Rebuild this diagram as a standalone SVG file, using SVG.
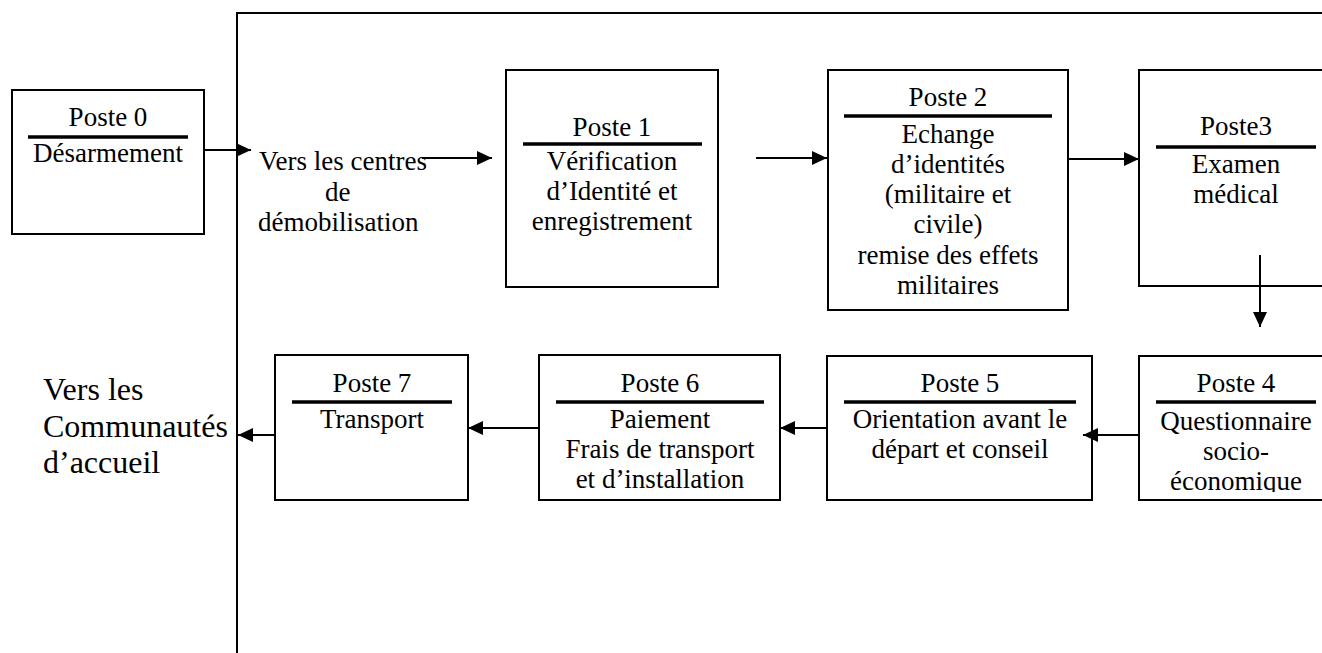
<svg xmlns="http://www.w3.org/2000/svg" width="1322" height="653" viewBox="0 0 1322 653">
<style>
.box{fill:#fff;stroke:#000;stroke-width:2}
.bar{stroke:#000;stroke-width:3.5}
.t{font-family:"Liberation Serif","Times New Roman",serif;font-size:27px;fill:#000;text-anchor:middle}
.tl{font-family:"Liberation Serif","Times New Roman",serif;font-size:27px;fill:#000}
.big{font-family:"Liberation Serif","Times New Roman",serif;font-size:32px;fill:#000}
.c{stroke:#000;stroke-width:2;fill:none;marker-end:url(#ah)}
.frame{stroke:#000;stroke-width:2;fill:none}
</style>
<defs>
<marker id="ah" markerUnits="userSpaceOnUse" markerWidth="16" markerHeight="16" refX="15" refY="7" orient="auto">
<path d="M0,0 L15,7 L0,14 z" fill="#000"/>
</marker>
<clipPath id="clip4"><rect x="1139" y="355" width="200" height="137"/></clipPath>
</defs>
<rect width="1322" height="653" fill="#fff"/>
<g id="frame">
<path class="frame" d="M237,653 L237,13 L1324,13"/>
</g>
<g id="poste0">
<rect class="box" x="12" y="90" width="192" height="144"/>
<text class="t" x="108" y="126">Poste 0</text>
<line class="bar" x1="28" y1="137" x2="188" y2="137"/>
<text class="t" x="108" y="162">Désarmement</text>
</g>
<g id="label-centres">
<text class="tl" x="259" y="170">Vers les centres</text>
<text class="tl" x="325" y="201">de</text>
<text class="tl" x="258" y="231">démobilisation</text>
</g>
<g id="poste1">
<rect class="box" x="506" y="70" width="212" height="217"/>
<text class="t" x="612" y="136">Poste 1</text>
<line class="bar" x1="523" y1="144" x2="702" y2="144"/>
<text class="t" x="612" y="170">Vérification</text>
<text class="t" x="612" y="200">d’Identité et</text>
<text class="t" x="612" y="230">enregistrement</text>
</g>
<g id="poste2">
<rect class="box" x="828" y="70" width="240" height="240"/>
<text class="t" x="948" y="106">Poste 2</text>
<line class="bar" x1="844" y1="116" x2="1052" y2="116"/>
<text class="t" x="948" y="143">Echange</text>
<text class="t" x="948" y="173">d’identités</text>
<text class="t" x="948" y="203">(militaire et</text>
<text class="t" x="948" y="233">civile)</text>
<text class="t" x="948" y="264">remise des effets</text>
<text class="t" x="948" y="294">militaires</text>
</g>
<g id="poste3">
<rect class="box" x="1139" y="70" width="200" height="216"/>
<text class="t" x="1236" y="135">Poste3</text>
<line class="bar" x1="1156" y1="147" x2="1316" y2="147"/>
<text class="t" x="1236" y="173">Examen</text>
<text class="t" x="1236" y="203">médical</text>
</g>
<g id="poste4">
<rect class="box" x="1139" y="356" width="200" height="144"/>
<text class="t" x="1236" y="392">Poste 4</text>
<line class="bar" x1="1156" y1="402" x2="1316" y2="402"/>
<g clip-path="url(#clip4)">
<text class="t" x="1236" y="430">Questionnaire</text>
<text class="t" x="1236" y="460">socio-</text>
<text class="t" x="1236" y="490">économique</text>
</g>
</g>
<g id="poste5">
<rect class="box" x="827" y="356" width="265" height="144"/>
<text class="t" x="960" y="392">Poste 5</text>
<line class="bar" x1="844" y1="402" x2="1076" y2="402"/>
<text class="t" x="960" y="428">Orientation avant le</text>
<text class="t" x="960" y="458">départ et conseil</text>
</g>
<g id="poste6">
<rect class="box" x="539" y="355" width="241" height="145"/>
<text class="t" x="660" y="392">Poste 6</text>
<line class="bar" x1="556" y1="402" x2="764" y2="402"/>
<text class="t" x="660" y="428">Paiement</text>
<text class="t" x="660" y="458">Frais de transport</text>
<text class="t" x="660" y="488">et d’installation</text>
</g>
<g id="poste7">
<rect class="box" x="275" y="355" width="193" height="145"/>
<text class="t" x="372" y="392">Poste 7</text>
<line class="bar" x1="292" y1="402" x2="452" y2="402"/>
<text class="t" x="372" y="428">Transport</text>
</g>
<g id="label-communautes">
<text class="big" x="43" y="400">Vers les</text>
<text class="big" x="43" y="437">Communautés</text>
<text class="big" x="43" y="473">d’accueil</text>
</g>
<g id="connectors">
<line class="c" x1="204" y1="150" x2="251" y2="150"/>
<line class="c" x1="422" y1="158" x2="492" y2="158"/>
<line class="c" x1="756" y1="158" x2="827" y2="158"/>
<line class="c" x1="1068" y1="159" x2="1139" y2="159"/>
<line class="c" x1="1260" y1="255" x2="1260" y2="327"/>
<line class="c" x1="1139" y1="435" x2="1083" y2="435"/>
<line class="c" x1="827" y1="428" x2="780" y2="428"/>
<line class="c" x1="539" y1="428" x2="468" y2="428"/>
<line class="c" x1="275" y1="435" x2="238" y2="435"/>
</g>
</svg>
